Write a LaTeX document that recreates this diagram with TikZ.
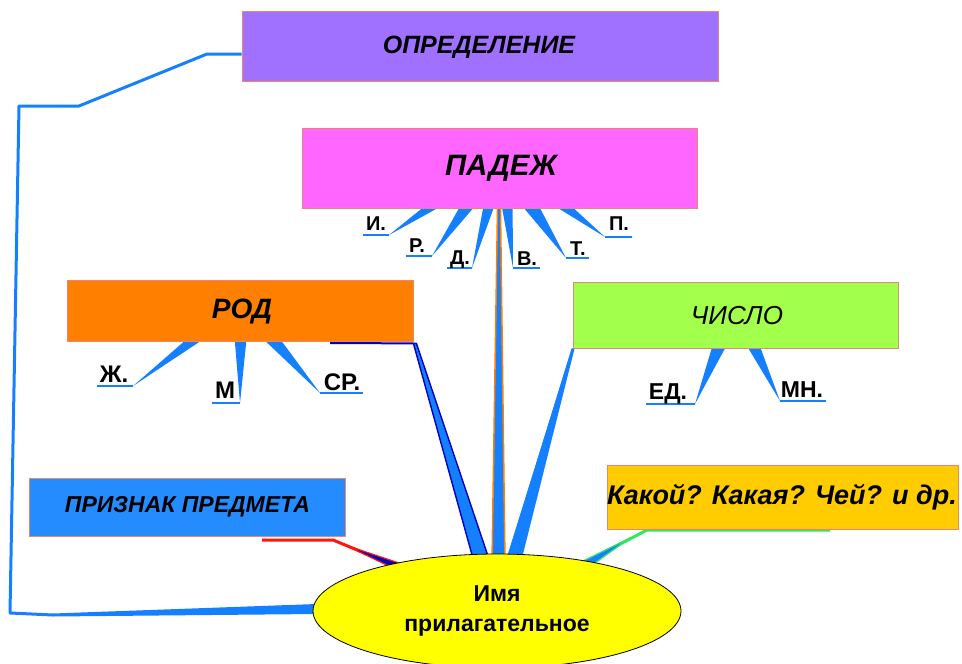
\documentclass[tikz,border=0pt]{standalone}
\usepackage{fontspec}
\setmainfont{Liberation Sans}
\usetikzlibrary{shapes.geometric,backgrounds}
\definecolor{cPurple}{RGB}{160,112,255}
\definecolor{cMagenta}{RGB}{255,102,255}
\definecolor{cOrange}{RGB}{255,128,0}
\definecolor{cGreenBox}{RGB}{162,255,76}
\definecolor{cBlueBox}{RGB}{36,140,255}
\definecolor{cGold}{RGB}{255,204,0}
\definecolor{cYellow}{RGB}{255,255,0}
\definecolor{cBorder}{RGB}{230,135,115}
\definecolor{cLine}{RGB}{20,128,255}
\definecolor{cNavy}{RGB}{0,0,190}
\definecolor{cRed}{RGB}{255,20,20}
\definecolor{cGreenLine}{RGB}{50,230,100}
\begin{document}
\begin{tikzpicture}[x=1pt,y=-1pt,
  box/.style={draw=cBorder, line width=0.8pt, rectangle, inner sep=0pt},
  ttl/.style={font=\bfseries\itshape\fontsize{#1}{#1}\selectfont},
  lab/.style={font=\bfseries\fontsize{#1}{#1}\selectfont, inner sep=0pt, anchor=base},
  wedge/.style={fill=cLine, draw=none},
  uline/.style={draw=cLine, line width=1.3pt},
  conn/.style={draw=cLine, line width=3pt, line join=round}]
\useasboundingbox (0,0) rectangle (962,664);

% boxes
\node[box, fill=cPurple, minimum width=476pt, minimum height=70pt] (opr) at (480,46) {};
\node[ttl=25, inner sep=0pt] (oprt) at (479,47.5) {ОПРЕДЕЛЕНИЕ};
\node[box, fill=cMagenta, minimum width=395pt, minimum height=80pt] (padezh) at (499.5,168) {};
\node[ttl=29.5, inner sep=0pt] (padezht) at (501,168) {ПАДЕЖ};
\node[box, fill=cOrange, minimum width=346pt, minimum height=61pt] (rod) at (240,310.5) {};
\node[ttl=28, inner sep=0pt] (rodt) at (242,312) {РОД};
\node[box, fill=cGreenBox, minimum width=325pt, minimum height=66pt] (chislo) at (735.5,315) {};
\node[font=\itshape\fontsize{26}{26}\selectfont, inner sep=0pt] (chislot) at (737,316) {ЧИСЛО};
\node[box, fill=cBlueBox, minimum width=316pt, minimum height=58pt] (priznak) at (187,507) {};
\node[ttl=23, inner sep=0pt] (priznakt) at (187.5,507) {ПРИЗНАК ПРЕДМЕТА};
\node[box, fill=cGold, minimum width=351pt, minimum height=64pt] (kakoy) at (782.5,497) {};
\node[ttl=27, inner sep=0pt] (kakoyt) at (782,497) {Какой? Какая? Чей? и др.};

% ellipse
\node[ellipse, draw=black, line width=0.8pt, fill=cYellow, minimum width=368pt, minimum height=114pt, inner sep=0pt, align=center, font=\bfseries\fontsize{23}{30}\selectfont] (adj) at (497,611) {Имя\\прилагательное};

% labels
\node[lab=20] (lI) at (376,230) {И.};
\node[lab=20] (lR) at (417,252) {Р.};
\node[lab=20] (lD) at (460,264) {Д.};
\node[lab=20] (lV) at (527,265) {В.};
\node[lab=20] (lT) at (578,255) {Т.};
\node[lab=20] (lP) at (619,230) {П.};
\node[lab=24] (lZh) at (114,382) {Ж.};
\node[lab=24] (lM) at (225,398) {М};
\node[lab=24] (lSr) at (342,390) {СР.};
\node[lab=23] (lEd) at (668,399) {ЕД.};
\node[lab=23] (lMn) at (802,397) {МН.};

% apex points
\coordinate (aI) at (389,235);
\coordinate (aR) at (432,256);
\coordinate (aD) at (472,268);
\coordinate (aV) at (513,268);
\coordinate (aT) at (566,258);
\coordinate (aP) at (605,237);
\coordinate (aZh) at (133,386);
\coordinate (aM) at (240,403);
\coordinate (aSr) at (320,393);
\coordinate (aEd) at (695,404);
\coordinate (aMn) at (780,401);

\begin{pgfonlayer}{background}
% ПАДЕЖ wedges
\fill[wedge] (aI) -- ([shift={(124pt,3pt)}]padezh.south west) -- ([shift={(141pt,3pt)}]padezh.south west) -- cycle;
\fill[wedge] (aR) -- ([shift={(159pt,3pt)}]padezh.south west) -- ([shift={(174pt,3pt)}]padezh.south west) -- cycle;
\fill[wedge] (aD) -- ([shift={(182pt,3pt)}]padezh.south west) -- ([shift={(193pt,3pt)}]padezh.south west) -- cycle;
\fill[wedge] (aV) -- ([shift={(200pt,3pt)}]padezh.south west) -- ([shift={(211pt,3pt)}]padezh.south west) -- cycle;
\fill[wedge] (aT) -- ([shift={(220pt,3pt)}]padezh.south west) -- ([shift={(237pt,3pt)}]padezh.south west) -- cycle;
\fill[wedge] (aP) -- ([shift={(252pt,3pt)}]padezh.south west) -- ([shift={(269pt,3pt)}]padezh.south west) -- cycle;
\draw[uline] (aI) -- ([xshift=-3pt]lI.west |- aI);
\draw[uline] (aR) -- ([xshift=-3pt]lR.west |- aR);
\draw[uline] (aD) -- ([xshift=-3pt]lD.west |- aD);
\draw[uline] (aV) -- ([xshift=3pt]lV.east |- aV);
\draw[uline] (aT) -- ([xshift=3pt]lT.east |- aT);
\draw[uline] (aP) -- ([xshift=3pt]lP.east |- aP);
% РОД wedges
\fill[wedge] (aZh) -- ([shift={(121pt,3pt)}]rod.south west) -- ([shift={(138pt,3pt)}]rod.south west) -- cycle;
\fill[wedge] (aM) -- ([shift={(168pt,3pt)}]rod.south west) -- ([shift={(180pt,3pt)}]rod.south west) -- cycle;
\fill[wedge] (aSr) -- ([shift={(196pt,3pt)}]rod.south west) -- ([shift={(213pt,3pt)}]rod.south west) -- cycle;
\draw[uline] (aZh) -- ([xshift=-3pt]lZh.west |- aZh);
\draw[uline] (aM) -- ([xshift=-3pt]lM.west |- aM);
\draw[uline] (aSr) -- ([xshift=3pt]lSr.east |- aSr);
% ЧИСЛО wedges
\fill[wedge] (aEd) -- ([shift={(140pt,3pt)}]chislo.south west) -- ([shift={(154pt,3pt)}]chislo.south west) -- cycle;
\fill[wedge] (aMn) -- ([shift={(174pt,3pt)}]chislo.south west) -- ([shift={(187pt,3pt)}]chislo.south west) -- cycle;
\draw[uline] (aEd) -- ([xshift=-3pt]lEd.west |- aEd);
\draw[uline] (aMn) -- ([xshift=3pt]lMn.east |- aMn);

% ОПРЕДЕЛЕНИЕ connector
\draw[conn] ([yshift=-8pt]opr.west) -- (207,54) -- (79,106) -- (19,106) -- (10,613) -- (53,615);
\fill[cLine] (53,613.5) -- ([shift={(4pt,7pt)}]adj.west) -- ([shift={(4pt,-3pt)}]adj.west) -- (53,616.5) -- cycle;

% РОД connector
\draw[draw=cNavy, line width=2pt] (330,343) -- ([yshift=-2pt]rod.south east);
\filldraw[fill=cLine, draw=cNavy, line width=1.4pt, line join=round] ([yshift=-2pt]rod.south east) -- ([shift={(3pt,-2pt)}]rod.south east) -- (490,562) -- (474,562) -- cycle;

% ПАДЕЖ connector
\filldraw[fill=cLine, draw=cOrange, line width=1.5pt] ([xshift=-2pt]padezh.south) -- ([xshift=1pt]padezh.south) -- (505,562) -- (492,562) -- cycle;

% ЧИСЛО connector
\fill[cLine] ([xshift=-1pt]chislo.south west) -- ([xshift=2pt]chislo.south west) -- (521,562) -- (506,562) -- cycle;
\draw[cLine, line width=1.2pt] (chislo.south west) -- (506,562);

% ПРИЗНАК connector
\draw[cRed, line width=3pt, line join=round] (262,540) -- (333,540) -- (396,566);
\filldraw[fill=cNavy, draw=cRed, line width=1.2pt] (345,545) -- (399,563) -- (395,569) -- cycle;

% Какой connector
\draw[cGreenLine, line width=3pt, line join=round] (830,530) -- (647,530) -- (584,563);
\filldraw[fill=cLine, draw=cGreenLine, line width=1.2pt] (630,538) -- (588,568) -- (583,561) -- cycle;
\end{pgfonlayer}
\end{tikzpicture}
\end{document}
